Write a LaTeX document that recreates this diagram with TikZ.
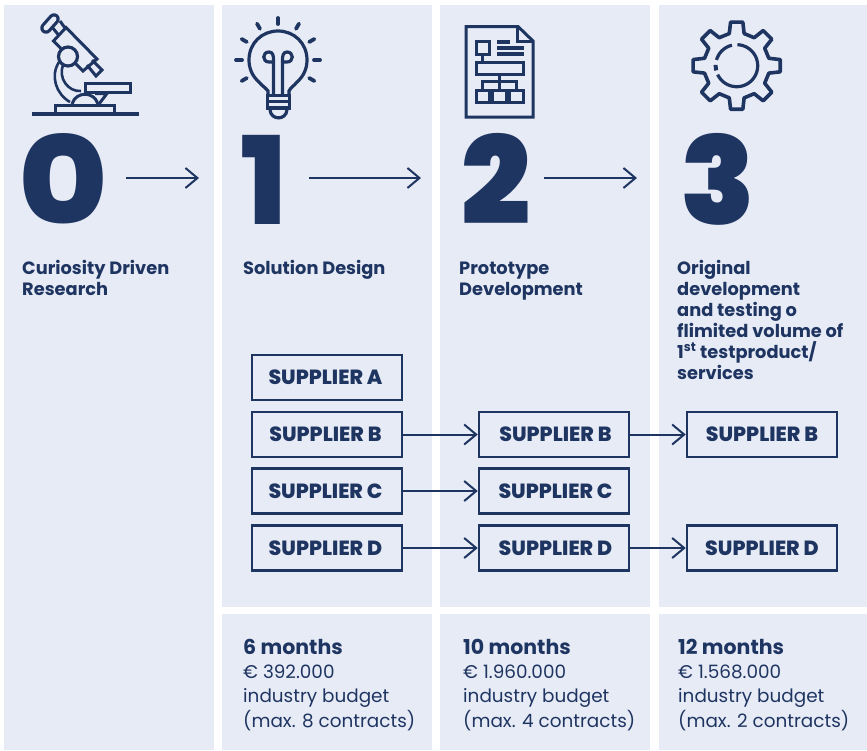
\documentclass[tikz,border=0pt]{standalone}
\usepackage{graphicx}
\usepackage{fontspec}
\setmainfont{Poppins}
\newfontface\heavyfont{Poppins Black}
\newfontface\boldfont{Poppins Bold}
\newfontface\xboldfont{Poppins ExtraBold}
\usetikzlibrary{arrows.meta}
\definecolor{navy}{HTML}{1F3561}
\definecolor{panel}{HTML}{E7EBF6}
\tikzset{
 x=1pt,y=-1pt,
 panelbox/.style={fill=panel,draw=none},
 supbox/.style={draw=navy,line width=2.5pt,minimum width=150pt,minimum height=45pt,inner sep=0pt,text=navy,font=\xboldfont\fontsize{20.5}{22}\selectfont},
 bigdigit/.style={anchor=base west,inner sep=0pt,text=navy,font=\heavyfont\fontsize{122}{122}\selectfont},
 lightdigit/.style={bigdigit,font=\xboldfont\fontsize{122}{122}\selectfont},
 heading/.style={anchor=base west,inner sep=0pt,text=navy,align=left,font=\boldfont\fontsize{17.8}{21}\selectfont},
 budget/.style={anchor=base west,inner sep=0pt,text=navy,align=left,font=\fontsize{18.4}{24.2}\selectfont},
 flow/.style={draw=navy,line width=2pt,-{Straight Barb[length=12pt,width=20pt,line width=2pt]}},
 icon/.style={draw=navy,line width=3pt,line join=miter},
}
\newcommand{\monthsfont}{\boldfont\fontsize{20.5}{24.2}\selectfont}
\begin{document}
\begin{tikzpicture}
\useasboundingbox (0,0) rectangle (867,750);
\fill[white] (0,0) rectangle (867,750);
\fill[panelbox] (4,5) rectangle (214,750);
\fill[panelbox] (222,5) rectangle (432,606.5);
\fill[panelbox] (440,5) rectangle (650,606.5);
\fill[panelbox] (659,5) rectangle (867,606.5);
\fill[panelbox] (222,614) rectangle (432,750);
\fill[panelbox] (440,614) rectangle (650,750);
\fill[panelbox] (659,614) rectangle (867,750);

% digits
\node[lightdigit] (d0) at (18,224) {\scalebox{1.12}[1]{0}};
\node[lightdigit] (d1) at (240,224) {1};
\node[bigdigit] (d2) at (461.5,224) {2};
\node[bigdigit] (d3) at (680,224) {3};
\coordinate (a0s) at (126,178); \coordinate (a0e) at (199,178);
\coordinate (a1s) at (309,178); \coordinate (a1e) at (421,178);
\coordinate (a2s) at (544,178); \coordinate (a2e) at (637,178);
\draw[flow] (a0s) -- (a0e);
\draw[flow] (a1s) -- (a1e);
\draw[flow] (a2s) -- (a2e);

% headings (a node's base is its last line)
\node[heading] (h0) at (22,295) {Curiosity Driven\\Research};
\node[heading] (h1) at (243,274) {Solution Design};
\node[heading] (h2) at (459,295) {Prototype\\Development};
\node[heading] (h3) at (677,379) {Original\\development\\and testing o\\flimited volume of\\1\textsuperscript{st} testproduct/\\services};

% suppliers
\node[supbox] (a1) at (327,377.5) {\hspace*{-3pt}SUPPLIER A};
\node[supbox] (b1) at (327,434.5) {\hspace*{-3pt}SUPPLIER B};
\node[supbox] (c1) at (327,491) {\hspace*{-3pt}SUPPLIER C};
\node[supbox] (d1b) at (327,548) {\hspace*{-3pt}SUPPLIER D};
\node[supbox] (b2) at (554,434.5) {\hspace*{3pt}SUPPLIER B};
\node[supbox] (c2) at (554,491) {\hspace*{3pt}SUPPLIER C};
\node[supbox] (d2b) at (554,548) {\hspace*{3pt}SUPPLIER D};
\node[supbox] (b3) at (762,434.5) {SUPPLIER B};
\node[supbox] (d3b) at (762,548) {SUPPLIER D};
\draw[flow] (b1) -- (b2);
\draw[flow] (c1) -- (c2);
\draw[flow] (d1b) -- (d2b);
\draw[flow] (b2) -- (b3);
\draw[flow] (d2b) -- (d3b);

% budgets
\node[budget] (t1) at (243,727) {{\monthsfont 6 months}\\€ 392.000\\industry budget\\(max. 8 contracts)};
\node[budget] (t2) at (463,727) {{\monthsfont 10 months}\\€ 1.960.000\\industry budget\\(max. 4 contracts)};
\node[budget] (t3) at (678,727) {{\monthsfont 12 months}\\€ 1.568.000\\industry budget\\(max. 2 contracts)};

% microscope
\draw[navy,line width=11.5pt,line cap=round] (46,28) -- (54,19);
\draw[panel,line width=5pt,line cap=round] (46,28) -- (54,19);
\draw[icon] (52,27) -- (58.5,35) (60,21) -- (65,28);
\draw[icon] (66,27.5) -- (97,59) -- (83,71) -- (53.5,41) -- cycle;
\draw[icon] (87,65) -- (96,76) -- (102,70) -- (92,60);
\draw[icon,line width=2.6pt] (59,62) .. controls (50,76) and (56,94) .. (70,102);
\draw[icon,line width=2.6pt] (63,65) .. controls (58,78) and (68,92) .. (81,91);
\draw[icon,fill=panel,line width=3.2pt] (68,56.5) circle[radius=9.5pt];
\draw[icon] (85,83.5) rectangle (130,92.5);
\draw[icon] (72,104) .. controls (76,91) and (94,91) .. (98,104);
\draw[icon] (95,93.5) -- (107,93.5) -- (99,104);
\draw[icon,fill=panel] (55,105) rectangle (114.5,114);
\draw[navy,line width=4.6pt] (32,114) -- (139,114);

% light bulb
\draw[icon,line width=3.2pt] (268,99) -- (268,91) .. controls (265,87) and (262,86) .. (259,82)
  .. controls (252,76) and (249,68) .. (249,60) .. controls (249,43) and (262,31) .. (278,31)
  .. controls (294,31) and (307,43) .. (307,60) .. controls (307,68) and (304,76) .. (297,82)
  .. controls (294,86) and (291,87) .. (289,91) -- (289,99);
\draw[icon,line width=3.2pt] (273.5,95) -- (273.5,60) .. controls (273.5,56) and (273,52) .. (269,52)
  .. controls (262,52) and (262,62) .. (269,62) -- (273.5,62);
\draw[icon,line width=3.2pt] (282.5,95) -- (282.5,60) .. controls (282.5,56) and (283,52) .. (287,52)
  .. controls (294,52) and (294,62) .. (287,62) -- (282.5,62);
\fill[navy] (266,94) rectangle (291,110);
\fill[panel] (269,96.5) rectangle (288,99.5);
\fill[panel] (269,102.5) rectangle (288,105.5);
\draw[icon,line width=3.2pt] (270,110) .. controls (271,120.5) and (286,120.5) .. (287,110);
\foreach \a in {0,30,60,90,120,150,180,210,-30}
  \draw[navy,line width=3.8pt,line cap=round] ({278+36*cos(\a)},{60-36*sin(\a)}) -- ({278+42*cos(\a)},{60-42*sin(\a)});

% document
\draw[icon] (466,26.5) -- (518,26.5) -- (533,41) -- (533,117) -- (466,117) -- cycle;
\draw[icon] (517,26.5) -- (517,41.5) -- (533,41.5);
\draw[icon] (476,41.5) rectangle (489.5,54.5);
\draw[icon] (482,55) -- (482,62);
\draw[navy,line width=3.2pt] (497,42) -- (510,42) (497,48) -- (524,48) (497,54) -- (524,54);
\draw[icon] (476,62) rectangle (523,74.5);
\draw[icon] (499,75) -- (499,89) (482,89) -- (482,81) -- (516,81) -- (516,89);
\draw[icon] (476,90) rectangle (489.5,102);
\draw[icon] (492.5,90) rectangle (506,102);
\draw[icon] (509.5,90) rectangle (523,102);

% gear
\begin{scope}[shift={(736.7,65.7)}]
\draw[icon,line width=3.6pt,line join=round] (-13:33) \foreach \a in {0,45,...,315}{ -- (\a-13:33) -- (\a-8:44) -- (\a+8:44) -- (\a+13:33) } -- cycle;
\draw[navy,line width=3.2pt] plot[domain=-88:155,samples=60] ({21*cos(\x)},{21*sin(\x)});
\draw[navy,line width=3.2pt] plot[domain=196:257,samples=30] ({21*cos(\x)},{21*sin(\x)});
\draw[navy,line width=4pt] plot[domain=167:182,samples=8] ({21*cos(\x)},{21*sin(\x)});
\end{scope}
\end{tikzpicture}
\end{document}
